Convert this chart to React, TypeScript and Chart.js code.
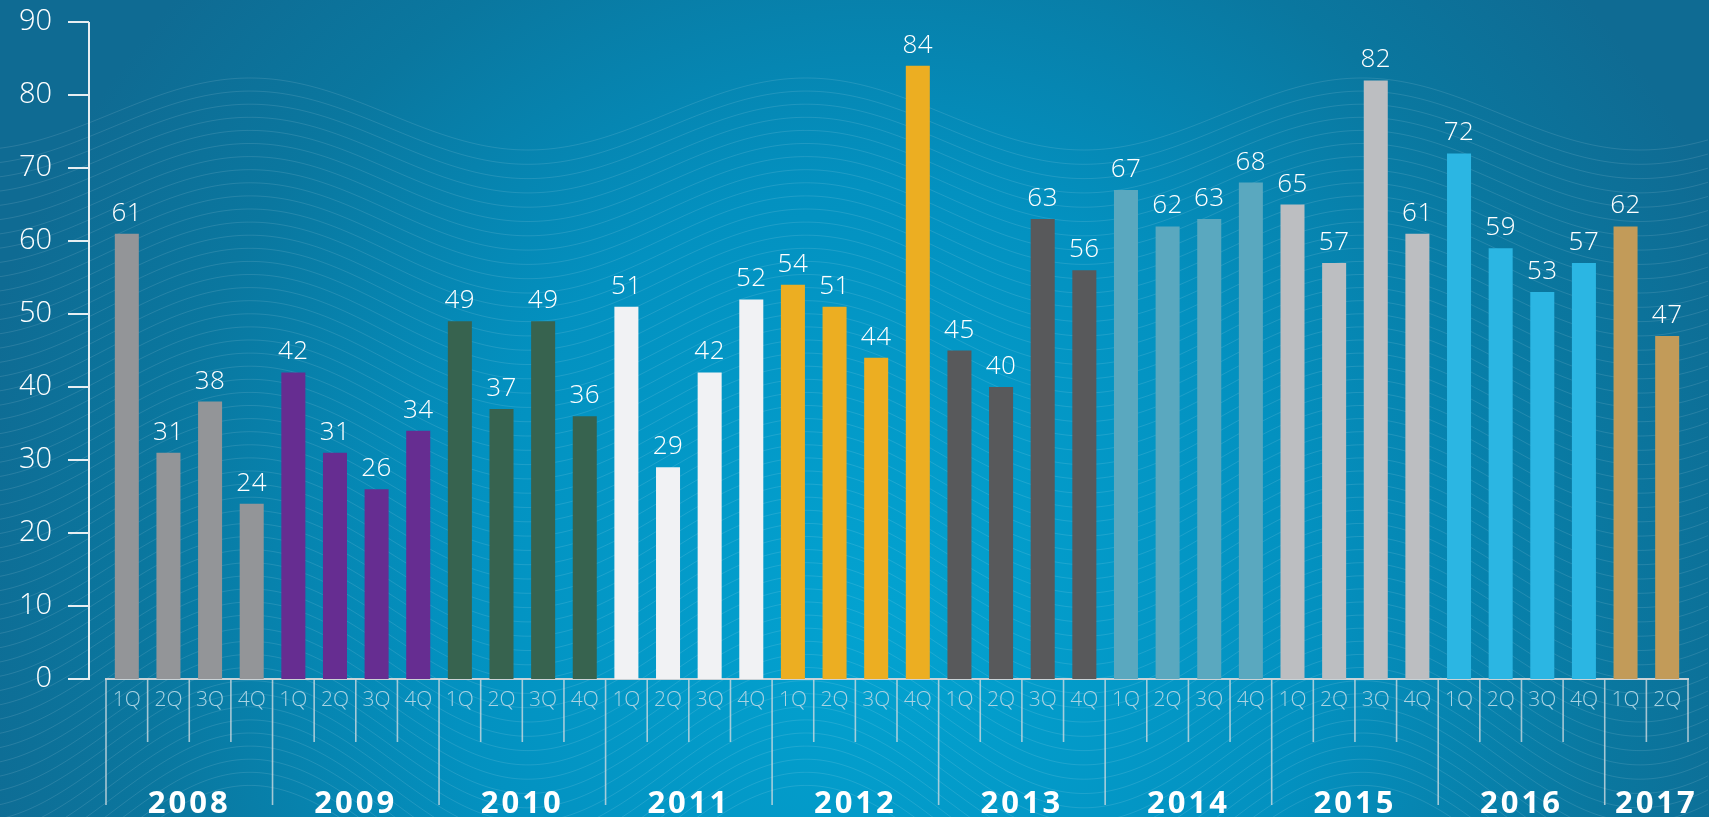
import React, { useEffect, useRef } from 'react';
import { Chart, registerables } from 'chart.js';

Chart.register(...registerables);

// ---------- data ----------
const years = ['2008', '2009', '2010', '2011', '2012', '2013', '2014', '2015', '2016', '2017'];
const quartersPerYear = [4, 4, 4, 4, 4, 4, 4, 4, 4, 2];
const quarterNames = ['1Q', '2Q', '3Q', '4Q'];
const values = [
  61, 31, 38, 24,
  42, 31, 26, 34,
  49, 37, 49, 36,
  51, 29, 42, 52,
  54, 51, 44, 84,
  45, 40, 63, 56,
  67, 62, 63, 68,
  65, 57, 82, 61,
  72, 59, 53, 57,
  62, 47,
];
const yMin = 0;
const yMax = 90;
const yStep = 10;

// ---------- styles ----------
const yearColors = [
  '#939598', '#662d91', '#37634f', '#f1f2f4', '#ecae22',
  '#58595b', '#5aa8bf', '#bcbec1', '#2bb6e3', '#c29b59',
];

const categoryLabels: string[] = [];
const barColors: string[] = [];
years.forEach((_, yi) => {
  for (let q = 0; q < quartersPerYear[yi]; q++) {
    categoryLabels.push(quarterNames[q]);
    barColors.push(yearColors[yi]);
  }
});

const FONT = '"Open Sans", "DejaVu Sans", sans-serif';

const backgroundPlugin = {
  id: 'bgWaves',
  beforeDraw(chart: any) {
    const { ctx, width, height } = chart;
    ctx.save();
    const g = ctx.createRadialGradient(880, 620, 20, 880, 620, 940);
    g.addColorStop(0, '#03a2d0');
    g.addColorStop(0.45, '#0391c0');
    g.addColorStop(0.78, '#0a779f');
    g.addColorStop(1, '#0f6b93');
    ctx.fillStyle = g;
    ctx.fillRect(0, 0, width, height);
    // decorative wave lines
    ctx.strokeStyle = 'rgba(255,255,255,0.11)';
    ctx.lineWidth = 1;
    const wl = 556;
    const crest = 250;
    for (let k = 0; k < 55; k++) {
      const base = 114 + k * 13.7;
      const amp = 36 + k * 0.6;
      ctx.beginPath();
      for (let x = 0; x <= width; x += 4) {
        const y = base - amp * Math.cos(((x - crest) / wl) * Math.PI * 2);
        if (x === 0) ctx.moveTo(x, y);
        else ctx.lineTo(x, y);
      }
      ctx.stroke();
    }
    ctx.restore();
  },
};

const axesPlugin = {
  id: 'customAxes',
  afterDraw(chart: any) {
    const { ctx, chartArea, scales } = chart;
    const y = scales.y;
    const x = scales.x;
    ctx.save();
    // y axis line and tick marks
    const axisX = chartArea.left - 17;
    ctx.strokeStyle = '#e6eef2';
    ctx.lineWidth = 2;
    ctx.beginPath();
    ctx.moveTo(axisX, y.getPixelForValue(yMax));
    ctx.lineTo(axisX, y.getPixelForValue(yMin) + 1);
    ctx.stroke();
    for (let v = yMin; v <= yMax; v += yStep) {
      const py = y.getPixelForValue(v);
      ctx.beginPath();
      ctx.moveTo(axisX - 21, py);
      ctx.lineTo(axisX, py);
      ctx.stroke();
    }
    // x separators
    const bottom = chartArea.bottom;
    ctx.strokeStyle = 'rgba(205,218,224,0.8)';
    ctx.lineWidth = 1.6;
    let idx = 0;
    years.forEach((yr, yi) => {
      const n = quartersPerYear[yi];
      for (let q = 0; q < n; q++) {
        const px = x.getPixelForValue(idx + q - 0.5);
        ctx.beginPath();
        ctx.moveTo(px, bottom);
        ctx.lineTo(px, bottom + (q === 0 ? 126 : 63));
        ctx.stroke();
      }
      idx += n;
    });
    const endX = x.getPixelForValue(idx - 0.5);
    ctx.beginPath();
    ctx.moveTo(endX, bottom);
    ctx.lineTo(endX, bottom + 63);
    ctx.stroke();

    // year labels
    ctx.fillStyle = '#ffffff';
    ctx.font = `bold 31px ${FONT}`;
    (ctx as any).letterSpacing = '3px';
    ctx.textAlign = 'center';
    ctx.textBaseline = 'alphabetic';
    idx = 0;
    years.forEach((yr, yi) => {
      const n = quartersPerYear[yi];
      const a = x.getPixelForValue(idx - 0.5);
      const b = x.getPixelForValue(idx + n - 0.5);
      let cx = (a + b) / 2;
      const tw = ctx.measureText(yr).width;
      cx = Math.min(cx + 10, chart.width - tw / 2 + 2);
      if (n === 4) cx = (a + b) / 2;
      ctx.fillText(yr, cx, bottom + 134);
      idx += n;
    });
    ctx.restore();
  },
};

const valueLabelPlugin = {
  id: 'valueLabels',
  afterDatasetsDraw(chart: any) {
    const { ctx } = chart;
    const meta = chart.getDatasetMeta(0);
    ctx.save();
    ctx.fillStyle = '#ffffff';
    ctx.font = `300 26px ${FONT}`;
    (ctx as any).letterSpacing = '0.5px';
    ctx.textAlign = 'center';
    ctx.textBaseline = 'alphabetic';
    meta.data.forEach((bar: any, i: number) => {
      ctx.fillText(String(values[i]), bar.x, bar.y - 13);
    });
    ctx.restore();
  },
};

export default function App() {
  const ref = useRef<HTMLCanvasElement | null>(null);
  useEffect(() => {
    if (!ref.current) return;
    const chart = new Chart(ref.current, {
      type: 'bar',
      data: {
        labels: categoryLabels,
        datasets: [
          {
            data: values,
            backgroundColor: barColors,
            borderWidth: 0,
            barPercentage: 0.577,
            categoryPercentage: 1,
          },
        ],
      },
      options: {
        animation: false,
        responsive: false,
        maintainAspectRatio: false,
        layout: { padding: { top: 22, right: 21, left: 0, bottom: 0 } },
        plugins: {
          legend: { display: false },
          tooltip: { enabled: false },
        },
        scales: {
          x: {
            type: 'category',
            offset: true,
            grid: { display: false, drawTicks: false },
            border: { display: true, color: '#c9d2d6', width: 2 },
            ticks: {
              color: '#a9d3e3',
              font: { family: FONT, size: 21, weight: '300' },
              padding: 8,
              autoSkip: false,
              maxRotation: 0,
              minRotation: 0,
            },
            afterFit(scale: any) {
              scale.height = 138;
              scale.paddingLeft = 0;
              scale.paddingRight = 0;
            },
          },
          y: {
            min: yMin,
            max: yMax,
            grid: { display: false, drawTicks: false, drawOnChartArea: false },
            border: { display: false },
            ticks: {
              stepSize: yStep,
              color: '#ffffff',
              font: { family: FONT, size: 29, weight: '300' },
              padding: 54,
            },
            afterFit(scale: any) {
              scale.width = 106;
              scale.paddingTop = 0;
              scale.paddingBottom = 0;
            },
          },
        },
      },
      plugins: [backgroundPlugin, axesPlugin, valueLabelPlugin],
    });
    return () => chart.destroy();
  }, []);
  return (
    <div style={{ position: 'absolute', left: 0, top: 0, width: 1709, height: 817, overflow: 'hidden' }}>
      <canvas ref={ref} width={1709} height={817} style={{ display: 'block' }} />
    </div>
  );
}
